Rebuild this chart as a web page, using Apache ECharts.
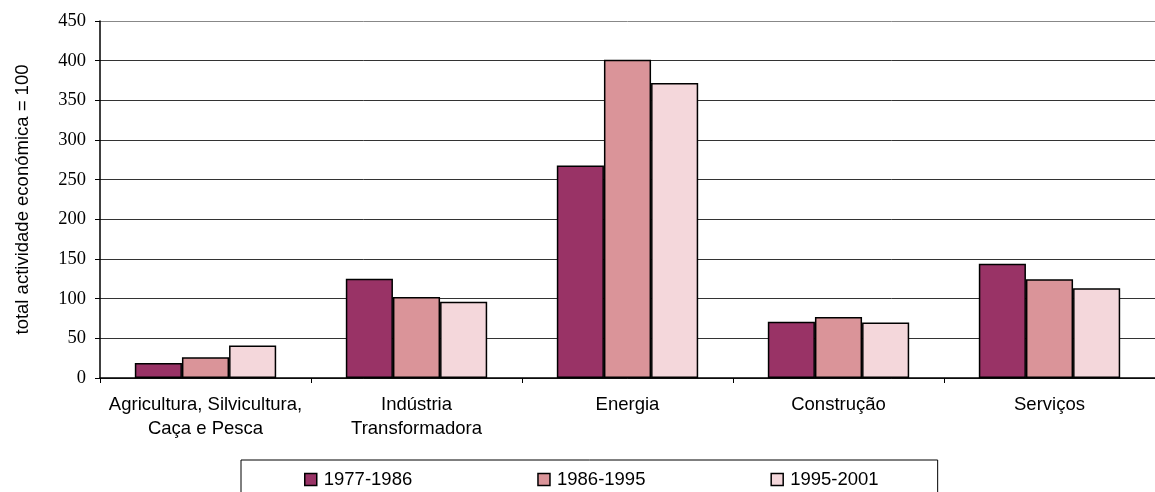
<!DOCTYPE html>
<html>
<head>
<meta charset="utf-8">
<script src="https://cdn.jsdelivr.net/npm/echarts@6/dist/echarts.min.js"></script>
<style>
  html, body { margin: 0; padding: 0; background: #fff; }
  #chart { width: 1155px; height: 492px; }
</style>
</head>
<body>
<div id="chart"></div>
<script>
// sectors (x axis)
let sectors = ['Agricultura, Silvicultura,\nCaça e Pesca', 'Indústria\nTransformadora', 'Energia', 'Construção', 'Serviços'];
// periods (legend)
let periods = ['1977-1986', '1986-1995', '1995-2001'];
// values, total actividade económica = 100
let v_1977_1986 = [19, 125, 268, 71, 144];
let v_1986_1995 = [26, 102, 401, 77, 124.5];
let v_1995_2001 = [41, 96, 372, 70, 113];
let colors = ['#993366', '#DA9499', '#F4D7DB'];

let sans = "'Liberation Sans', Arial, sans-serif";
let serif = "'Liberation Serif', 'Times New Roman', serif";

let myChart = echarts.init(document.getElementById('chart'));

let values = [v_1977_1986, v_1986_1995, v_1995_2001];
let series = [];
for (let i = 0; i < periods.length; i++) {
    series.push({
        name: periods[i],
        type: 'bar',
        data: values[i],
        barGap: '0%',
        barCategoryGap: '33%',
        itemStyle: {
            color: colors[i],
            borderColor: '#000',
            borderWidth: 1.5
        }
    });
}

// gridlines are dark, the top one (450) is the grey plot border
let gridColors = ['#333', '#333', '#333', '#333', '#333', '#333', '#333', '#333', '#333', '#888'];

let option = {
    backgroundColor: '#fff',
    animation: false,
    grid: {
        left: 100,
        top: 21,
        width: 1068,
        height: 357
    },
    legend: {
        data: periods,
        left: 241,
        top: 460,
        orient: 'horizontal',
        padding: [10, 59, 20, 63],
        itemGap: 125,
        itemWidth: 12,
        itemHeight: 12,
        icon: 'rect',
        borderColor: '#000',
        borderWidth: 1,
        itemStyle: {
            borderColor: '#000',
            borderWidth: 1.5
        },
        textStyle: {
            fontFamily: sans,
            fontSize: 18.5,
            color: '#000',
            padding: [0, 0, 0, 2]
        }
    },
    xAxis: {
        type: 'category',
        data: sectors,
        axisLine: { lineStyle: { color: '#000', width: 1.5 } },
        axisTick: {
            show: true,
            alignWithLabel: false,
            interval: 0,
            length: 5,
            lineStyle: { color: '#000', width: 1 }
        },
        axisLabel: {
            interval: 0,
            margin: 15,
            fontFamily: sans,
            fontSize: 18.5,
            lineHeight: 24,
            color: '#000'
        }
    },
    yAxis: {
        type: 'value',
        min: 0,
        max: 450,
        interval: 50,
        name: 'total actividade económica = 100',
        nameLocation: 'middle',
        nameGap: 68,
        nameTextStyle: {
            fontFamily: sans,
            fontSize: 18.5,
            color: '#000'
        },
        axisLine: { show: true, lineStyle: { color: '#000', width: 1.5 } },
        axisTick: { show: true, length: 5, lineStyle: { color: '#000' } },
        axisLabel: {
            margin: 14,
            fontFamily: serif,
            fontSize: 18.5,
            color: '#000'
        },
        splitLine: {
            show: true,
            lineStyle: { color: gridColors, width: 1 }
        }
    },
    series: series
};

myChart.setOption(option);
</script>
</body>
</html>
